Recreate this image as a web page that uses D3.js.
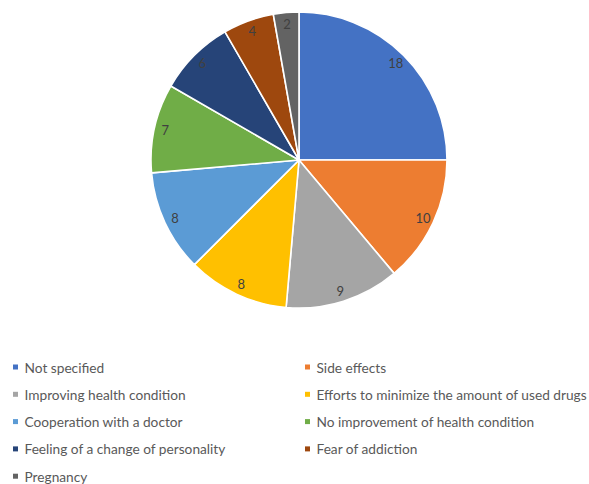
<!DOCTYPE html>
<html>
<head>
<meta charset="utf-8">
<script src="https://cdn.jsdelivr.net/npm/d3@7/dist/d3.min.js"></script>
<style>
  html, body { margin: 0; padding: 0; background: #ffffff; }
  svg { display: block; }
</style>
</head>
<body>
<svg id="chart" width="589" height="484"></svg>
<script>
// Reasons for discontinuing treatment (number of responses)
const categories = [
  "Not specified",
  "Side effects",
  "Improving health condition",
  "Efforts to minimize the amount of used drugs",
  "Cooperation with a doctor",
  "No improvement of health condition",
  "Feeling of a change of personality",
  "Fear of addiction",
  "Pregnancy"
];
const counts = [18, 10, 9, 8, 8, 7, 6, 4, 2];
const colors = ["#4472C4", "#ED7D31", "#A5A5A5", "#FFC000", "#5B9BD5",
                "#70AD47", "#264478", "#9E480E", "#636363"];

const data = categories.map((c, i) => ({ name: c, value: counts[i], color: colors[i] }));

const svg = d3.select("#chart");
const cx = 299, cy = 160, radius = 148;

const pie = d3.pie().value(d => d.value).sort(null);
const arc = d3.arc().innerRadius(0).outerRadius(radius);
const labelArc = d3.arc().innerRadius(radius * 0.925).outerRadius(radius * 0.925);

const g = svg.append("g").attr("transform", `translate(${cx},${cy})`);
const arcs = pie(data);

g.selectAll("path.slice")
  .data(arcs)
  .join("path")
  .attr("class", "slice")
  .attr("d", arc)
  .attr("fill", d => d.data.color)
  .attr("stroke", "#ffffff")
  .attr("stroke-width", 1.6)
  .attr("stroke-linejoin", "round");

g.selectAll("text.value")
  .data(arcs)
  .join("text")
  .attr("class", "value")
  .attr("transform", d => {
    const [x, y] = labelArc.centroid(d);
    return `translate(${x},${y})`;
  })
  .attr("text-anchor", "middle")
  .attr("dominant-baseline", "central")
  .attr("font-family", "Lato, 'Open Sans', sans-serif")
  .attr("font-size", 13)
  .attr("fill", "#404040")
  .text(d => d.data.value);

// Legend: two columns
const legend = svg.append("g").attr("font-family", "Lato, 'Open Sans', sans-serif");
const colX = [15.5, 307.5];
const rowY0 = 367, rowGap = 27.3;
const items = legend.selectAll("g.item")
  .data(data)
  .join("g")
  .attr("class", "item")
  .attr("transform", (d, i) => `translate(${colX[i % 2]},${rowY0 + Math.floor(i / 2) * rowGap})`);

items.append("rect")
  .attr("x", -2.5).attr("y", -2.5)
  .attr("width", 5).attr("height", 5)
  .attr("fill", d => d.color);

items.append("text")
  .attr("x", 9)
  .attr("y", 0)
  .attr("dominant-baseline", "central")
  .attr("font-size", 13.7)
  .attr("fill", "#595959")
  .text(d => d.name);
</script>
</body>
</html>
